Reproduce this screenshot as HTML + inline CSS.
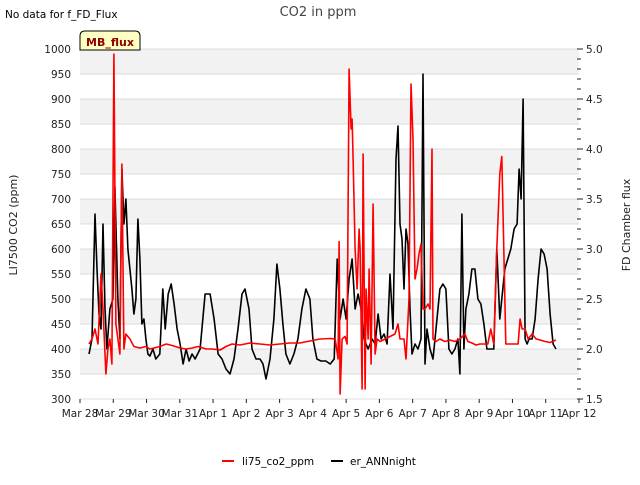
<!DOCTYPE html>
<html><head><meta charset="utf-8"><style>
body{margin:0;background:#fff;font-family:"Liberation Sans","DejaVu Sans",sans-serif}
svg text{font-family:"DejaVu Sans","Liberation Sans",sans-serif}
</style></head><body>
<svg id="chart" width="640" height="480" xmlns="http://www.w3.org/2000/svg">
<g id="bg"></g>
<g id="axes"></g>
<g id="series"></g>
<text x="5" y="18" font-size="10.5" fill="#000">No data for f_FD_Flux</text>
<text x="318" y="16" font-size="13" fill="#444" text-anchor="middle">CO2 in ppm</text>
<g>
<path d="M80,50 L80,36 Q80,31 85,31 L135,31 Q140,31 140,36 L140,50 Z" fill="#ffffc4" stroke="#000" stroke-width="1"/>
<text x="110" y="46" font-size="11" font-weight="bold" fill="#8b0000" text-anchor="middle">MB_flux</text>
</g>
<text transform="translate(17,225) rotate(-90)" font-size="11" fill="#222" text-anchor="middle">LI7500 CO2 (ppm)</text>
<text transform="translate(630,225) rotate(-90)" font-size="11" fill="#222" text-anchor="middle">FD Chamber flux</text>
<g>
<g><line x1="222" y1="461" x2="234" y2="461" stroke="#f00" stroke-width="2"/><text x="242" y="465" font-size="10.5">li75_co2_ppm</text></g>
<g><line x1="331" y1="461" x2="343" y2="461" stroke="#000" stroke-width="2"/><text x="350" y="465" font-size="10.5">er_ANNnight</text></g>
</g>
</svg>
<script>
const xLabels=["Mar 28","Mar 29","Mar 30","Mar 31","Apr 1","Apr 2","Apr 3","Apr 4","Apr 5","Apr 6","Apr 7","Apr 8","Apr 9","Apr 10","Apr 11","Apr 12"];
const yTicks=[300,350,400,450,500,550,600,650,700,750,800,850,900,950,1000];
const y2Ticks=[1.5,2.0,2.5,3.0,3.5,4.0,4.5,5.0];
const co2Days=[0.27,0.36,0.45,0.54,0.63,0.69,0.78,0.84,0.90,0.96,1.02,1.08,1.14,1.20,1.26,1.32,1.38,1.50,1.62,1.80,1.98,2.10,2.40,2.59,2.77,3.01,3.19,3.37,3.55,3.79,3.97,4.21,4.39,4.57,4.81,5.11,5.41,5.71,6.01,6.31,6.61,6.91,7.21,7.52,7.67,7.76,7.79,7.82,7.88,7.97,8.03,8.09,8.15,8.18,8.21,8.27,8.33,8.39,8.42,8.48,8.51,8.57,8.60,8.66,8.69,8.75,8.81,8.87,8.93,9.02,9.17,9.32,9.47,9.56,9.62,9.74,9.80,9.89,9.95,10.01,10.07,10.13,10.19,10.25,10.31,10.37,10.46,10.52,10.58,10.61,10.70,10.82,10.97,11.12,11.27,11.42,11.57,11.66,11.78,11.90,12.02,12.14,12.26,12.35,12.44,12.53,12.62,12.68,12.74,12.80,12.92,13.05,13.17,13.23,13.29,13.38,13.47,13.59,13.71,13.83,13.98,14.13,14.31];
const co2Values=[410,420,440,410,550,480,350,400,420,370,990,450,420,390,770,400,430,420,405,402,405,400,405,410,407,402,400,402,405,400,400,398,405,410,408,412,410,408,410,412,412,416,420,421,420,380,615,310,420,425,410,960,840,860,780,600,520,640,600,320,790,320,520,420,560,370,690,390,420,415,420,425,430,450,420,420,380,500,930,820,540,560,590,610,480,480,490,480,800,420,415,420,415,418,415,420,430,415,412,408,410,410,410,440,410,600,750,785,600,410,410,410,410,460,440,440,420,430,420,418,415,413,418];
const fluxDays=[0.27,0.36,0.45,0.51,0.57,0.63,0.69,0.75,0.81,0.90,0.99,1.05,1.14,1.20,1.26,1.32,1.38,1.44,1.50,1.56,1.62,1.68,1.74,1.80,1.86,1.92,1.98,2.04,2.10,2.19,2.28,2.40,2.49,2.56,2.65,2.74,2.83,2.92,3.01,3.10,3.19,3.28,3.37,3.46,3.61,3.76,3.91,4.03,4.15,4.27,4.39,4.51,4.63,4.75,4.87,4.96,5.08,5.17,5.29,5.41,5.50,5.59,5.71,5.83,5.92,6.01,6.10,6.19,6.31,6.43,6.55,6.67,6.79,6.91,7.00,7.12,7.24,7.39,7.52,7.64,7.73,7.82,7.91,8.00,8.09,8.18,8.27,8.36,8.45,8.54,8.66,8.78,8.87,8.96,9.05,9.14,9.23,9.32,9.41,9.50,9.56,9.62,9.68,9.74,9.80,9.86,9.92,9.98,10.07,10.16,10.25,10.31,10.37,10.43,10.52,10.61,10.70,10.82,10.91,11.00,11.09,11.18,11.27,11.36,11.42,11.48,11.54,11.60,11.69,11.78,11.87,11.96,12.05,12.14,12.23,12.32,12.44,12.53,12.62,12.68,12.77,12.86,12.95,13.05,13.14,13.20,13.26,13.32,13.38,13.44,13.50,13.59,13.68,13.77,13.86,13.95,14.04,14.13,14.22,14.31];
const fluxValues=[1.95,2.10,3.35,2.80,2.35,2.20,3.25,2.40,2.00,2.40,2.50,3.62,2.50,2.10,3.80,3.25,3.50,3.00,2.80,2.60,2.35,2.50,3.30,2.90,2.25,2.30,2.10,1.95,1.93,2.00,1.90,1.95,2.60,2.20,2.55,2.65,2.45,2.20,2.05,1.85,2.00,1.88,1.95,1.90,2.00,2.55,2.55,2.30,1.95,1.90,1.80,1.75,1.90,2.20,2.55,2.60,2.40,2.00,1.90,1.90,1.85,1.70,1.90,2.30,2.85,2.60,2.25,1.95,1.85,1.95,2.10,2.40,2.60,2.50,2.10,1.90,1.88,1.88,1.85,1.90,2.90,2.30,2.50,2.30,2.70,2.90,2.40,2.55,2.40,2.10,2.00,2.10,2.05,2.35,2.10,2.15,2.05,2.75,2.20,3.90,4.23,3.25,3.10,2.60,3.20,3.05,2.40,1.95,2.05,2.00,2.10,4.75,1.85,2.20,2.00,1.90,2.20,2.60,2.65,2.60,2.00,1.95,2.00,2.10,1.75,3.35,2.00,2.40,2.55,2.80,2.80,2.50,2.45,2.25,2.00,2.00,2.00,3.00,2.30,2.50,2.80,2.90,3.00,3.20,3.25,3.80,3.50,4.50,2.10,2.05,2.10,2.10,2.30,2.70,3.00,2.95,2.80,2.35,2.05,2.00];

const NS="http://www.w3.org/2000/svg";
const L=80,R=579,T=49,B=399;
const xS=d=>L+d*(R-L)/15;
const yS=v=>B-(v-300)*(B-T)/700;
const y2S=v=>B-(v-1.5)*(B-T)/3.5;
function mk(tag,attrs,parent){const e=document.createElementNS(NS,tag);for(const k in attrs)e.setAttribute(k,attrs[k]);parent.appendChild(e);return e;}
const bg=document.getElementById('bg'),axes=document.getElementById('axes'),series=document.getElementById('series');
for(let i=0;i<yTicks.length-1;i++){
  const lo=yTicks[i],hi=yTicks[i+1];
  if(i%2===1){const r=mk('rect',{x:L,y:yS(hi),width:R-L,height:yS(lo)-yS(hi),fill:'#f2f2f2'},bg);
  
  }
}
yTicks.forEach(v=>{
  const g=mk('line',{x1:L,x2:R,y1:yS(v),y2:yS(v),stroke:'#dcdcdc','stroke-width':1},axes);
  
  
  const t=mk('text',{x:L-9,y:yS(v)+4,'font-size':10.5,'text-anchor':'end',fill:'#222'},axes);
  t.textContent=v;
  
  
});
for(let v=1.5;v<=5.001;v+=0.1){
  const big=Math.abs(v*2-Math.round(v*2))<1e-6;
  mk('line',{x1:R-2,x2:R+(big?4:2),y1:y2S(v),y2:y2S(v),stroke:'#222','stroke-width':1},axes);
}
y2Ticks.forEach(v=>{
  const t=mk('text',{x:R+7,y:y2S(v)+4,'font-size':10.5,fill:'#222'},axes);
  t.textContent=v.toFixed(1);
  
  
});
xLabels.forEach((s,i)=>{
  mk('line',{x1:xS(i),x2:xS(i),y1:B,y2:B+4,stroke:'#222'},axes);
  const t=mk('text',{x:xS(i),y:B+18,'font-size':10.5,'text-anchor':'middle',fill:'#222'},axes);
  t.textContent=s;
  
  
});
const fp=mk('polyline',{points:fluxDays.map((d,i)=>xS(d).toFixed(1)+','+y2S(fluxValues[i]).toFixed(1)).join(' '),fill:'none',stroke:'#000','stroke-width':1.6,'stroke-linejoin':'round'},series);


const cp=mk('polyline',{points:co2Days.map((d,i)=>xS(d).toFixed(1)+','+yS(co2Values[i]).toFixed(1)).join(' '),fill:'none',stroke:'#f00','stroke-width':1.6,'stroke-linejoin':'round'},series);


</script>
</body></html>
